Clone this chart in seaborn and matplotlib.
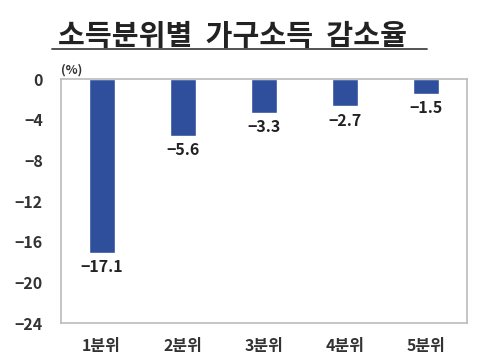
import matplotlib
matplotlib.use("Agg")
import matplotlib.pyplot as plt
import seaborn as sns
import pandas as pd

categories = ["1분위", "2분위", "3분위", "4분위", "5분위"]
values = [-17.1, -5.6, -3.3, -2.7, -1.5]
yticks = [0, -4, -8, -12, -16, -20, -24]
title = "소득분위별  가구소득  감소율"

sns.set_theme(style="white")
plt.rcParams['font.family'] = ['Noto Sans CJK KR', 'DejaVu Sans']

df = pd.DataFrame({"cat": categories, "val": values})

fig = plt.figure(figsize=(4.87, 3.58), dpi=100)
ax = fig.add_axes([61/487, 1-323/358, (467-61)/487, (323-79)/358])
sns.barplot(data=df, x="cat", y="val", color="#2F4F9C", width=0.32, ax=ax, saturation=1)
ax.set_ylim(-24, 0)
ax.set_yticks(yticks)
ax.set_yticklabels([str(t) if t == 0 else "\u2212" + str(-t) for t in yticks], fontsize=11.5, fontweight='bold', color="#333333")
ax.set_xlabel("")
ax.set_ylabel("")
ax.tick_params(axis='x', labelsize=11.5, pad=5, colors="#333333")
for lbl in ax.get_xticklabels():
    lbl.set_fontweight('bold')
ax.tick_params(axis='y', pad=7)
for s in ax.spines.values():
    s.set_color("#BBBBBB")
    s.set_linewidth(1.2)

for i, v in enumerate(values):
    ax.text(i, v - 0.6, "\u2212" + f"{-v:.1f}", ha="center", va="top", fontsize=11.5, fontweight='bold', color="#222222")

ax.text(0.0, 1.01, "(%)", transform=ax.transAxes, ha="left", va="bottom", fontsize=9, fontweight='bold', color="#333333")

fig.text(232/487, 1-36/358, title, ha="center", va="center", fontsize=21, fontweight='bold', color="#222222")
fig.add_artist(plt.Line2D([52/487, 427/487], [1-49/358, 1-49/358], color="#444444", linewidth=1.3))

fig.savefig("out.png", dpi=100, facecolor="white")
